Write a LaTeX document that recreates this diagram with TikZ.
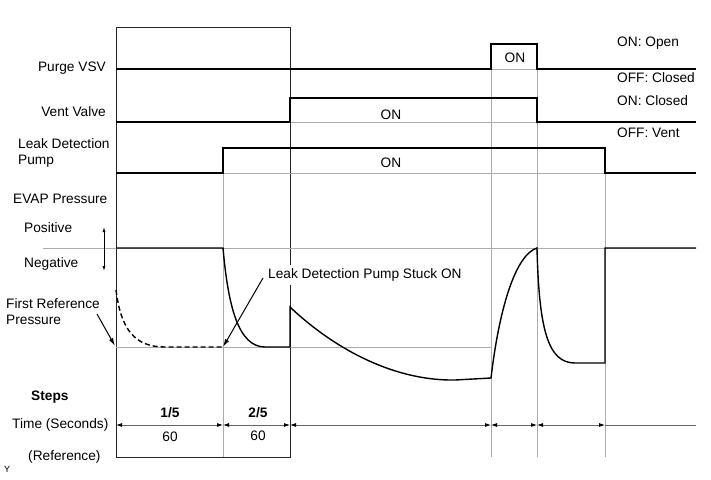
\documentclass[tikz,border=0pt]{standalone}
\usepackage{fontspec}
\setmainfont{Liberation Sans}
\usetikzlibrary{arrows.meta}
\begin{document}
\begin{tikzpicture}[x=1pt,y=-1pt,
  lbl/.style={font=\fontsize{13.7}{16}\selectfont, inner sep=0pt},
  sig/.style={line width=1.6pt, line join=miter},
  gridl/.style={line width=0.8pt, draw=gray!65},
  framel/.style={line width=0.8pt, draw=black!85},
  dim/.style={line width=0.8pt, draw=black!60, {Latex[length=6pt,width=4pt,color=black]}-{Latex[length=6pt,width=4pt,color=black]}},
  callout/.style={line width=1pt, -{Latex[length=8pt,width=4.5pt]}}
]
\useasboundingbox (0,0) rectangle (711,479);

% grid / frame
\draw[framel] (116,457) -- (116,27) -- (290,27) -- (290,457) -- cycle;
\draw[gridl] (223,148) -- (223,457);
\draw[gridl] (491,44) -- (491,457);
\draw[gridl] (537,44) -- (537,457);
\draw[gridl] (605,148) -- (605,457);
\draw[gridl] (116,69) -- (696,69);
\draw[gridl] (116,122) -- (696,122);
\draw[gridl] (116,173) -- (696,173);
\draw[gridl] (43,248) -- (696,248);
\draw[gridl] (116,347) -- (491,347);

% signals
\draw[sig] (116,69) -- (491,69) -- (491,44) -- (537,44) -- (537,69) -- (696,69);
\draw[sig] (116,122) -- (290,122) -- (290,98) -- (537,98) -- (537,122) -- (696,122);
\draw[sig] (116,173) -- (223,173) -- (223,148) -- (605,148) -- (605,173) -- (696,173);
\draw[sig, line width=1.4pt] (116,248) -- (223,248)
  .. controls (228,305) and (238,347) .. (265,347) -- (290,347) -- (290,307)
  .. controls (330,345) and (390,381) .. (455,380) -- (491,378)
  .. controls (499,310) and (515,255) .. (537,248)
  .. controls (539,330) and (548,363) .. (575,363) -- (605,363) -- (605,248) -- (696,248);
\draw[sig, line width=1.4pt, dash pattern=on 5pt off 3pt] (116,290)
  .. controls (121,330) and (135,347) .. (165,347) -- (223,347);

% Positive/Negative arrow
\draw[line width=0.8pt, {Latex[length=5pt,width=3pt]}-{Latex[length=5pt,width=3pt]}] (104,227) -- (104,271);

% time row
\coordinate (t0) at (116,425);
\coordinate (t1) at (223,425);
\coordinate (t2) at (290,425);
\coordinate (t3) at (491,425);
\coordinate (t4) at (537,425);
\coordinate (t5) at (605,425);
\coordinate (t6) at (696,425);
\draw[dim] (t0) -- (t1);
\draw[dim] (t1) -- (t2);
\draw[dim] (t2) -- (t3);
\draw[dim] (t3) -- (t4);
\draw[dim] (t4) -- (t5);
\draw[line width=0.8pt, draw=black!60] (t5) -- (t6);

% labels
\node[lbl, anchor=east] (purge) at (106,68) {Purge VSV};
\node[lbl, anchor=east] (vent) at (106,112) {Vent Valve};
\node[lbl, anchor=west, align=left] (pump) at (18,153) {Leak Detection\\Pump};
\node[lbl, anchor=west] (evap) at (13,199) {EVAP Pressure};
\node[lbl, anchor=west] (pos) at (24,228) {Positive};
\node[lbl, anchor=west] (neg) at (24,264) {Negative};
\node[lbl, anchor=west, align=left] (firstref) at (6,312) {First Reference\\Pressure};
\node[lbl, anchor=west, font=\fontsize{13.7}{16}\selectfont\bfseries] (steps) at (31,397) {Steps};
\node[lbl, anchor=west] (time) at (12,425) {Time (Seconds)};
\node[lbl, anchor=west] (refl) at (28,457) {(Reference)};
\node[anchor=west, inner sep=0pt, font=\fontsize{9}{10}\selectfont] (ymark) at (4,469) {Y};

\node[lbl, font=\fontsize{13.7}{16}\selectfont\bfseries] (s1) at (170,413) {1/5};
\node[lbl] (s1t) at (170,437) {60};
\node[lbl, font=\fontsize{13.7}{16}\selectfont\bfseries] (s2) at (258,413) {2/5};
\node[lbl] (s2t) at (258,436) {60};

\node[lbl] (onp) at (515,58) {ON};
\node[lbl] (onv) at (391,115) {ON};
\node[lbl] (onl) at (391,163) {ON};

\node[lbl, anchor=west] (r1) at (617,43) {ON: Open};
\node[lbl, anchor=west] (r2) at (617,78) {OFF: Closed};
\node[lbl, anchor=west] (r3) at (617,101) {ON: Closed};
\node[lbl, anchor=west] (r4) at (617,133) {OFF: Vent};

\node[lbl, anchor=west, fill=white, inner ysep=4pt, inner xsep=1pt] (stuck) at (267,275) {Leak Detection Pump Stuck ON};

% callouts
\coordinate (stuckstart) at (263,278);
\coordinate (stuckend) at (223,347);
\draw[callout] (stuckstart) -- (stuckend);
\coordinate (frstart) at (97,314);
\coordinate (frend) at (115,346);
\draw[callout] (frstart) -- (frend);
\end{tikzpicture}
\end{document}
